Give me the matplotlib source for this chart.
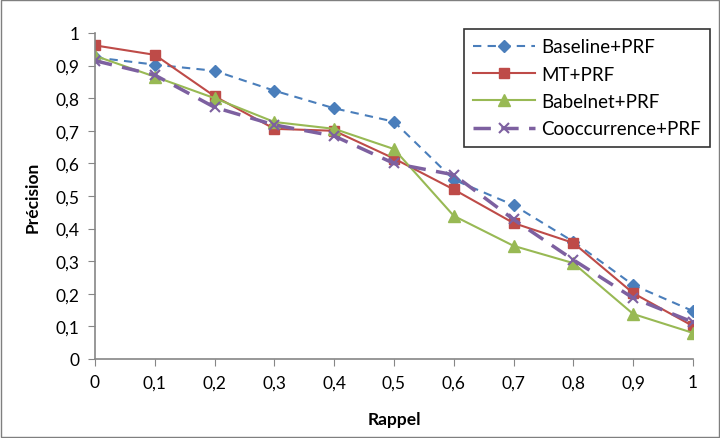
import matplotlib
matplotlib.use('Agg')
import matplotlib.pyplot as plt
from matplotlib.patches import Rectangle

plt.rcParams['font.family'] = ['Lato', 'DejaVu Sans']

rappel = [0, 0.1, 0.2, 0.3, 0.4, 0.5, 0.6, 0.7, 0.8, 0.9, 1]
baseline = [0.925, 0.903, 0.884, 0.823, 0.769, 0.728, 0.55, 0.472, 0.36, 0.227, 0.147]
mt = [0.962, 0.933, 0.806, 0.706, 0.70, 0.615, 0.52, 0.417, 0.356, 0.202, 0.101]
babelnet = [0.93, 0.866, 0.80, 0.727, 0.706, 0.644, 0.439, 0.347, 0.294, 0.138, 0.08]
cooc = [0.915, 0.871, 0.772, 0.718, 0.684, 0.60, 0.565, 0.428, 0.304, 0.187, 0.113]
ticks = [0, 0.1, 0.2, 0.3, 0.4, 0.5, 0.6, 0.7, 0.8, 0.9, 1]
tick_labels = ['0', '0,1', '0,2', '0,3', '0,4', '0,5', '0,6', '0,7', '0,8', '0,9', '1']

fig = plt.figure(figsize=(7.2, 4.39), dpi=100)
ax = fig.add_axes([95/720, 1-360/439, 598/720, 326/439])

ax.plot(rappel, baseline, color='#4a7ebb', ls=(0, (4, 3)), lw=1.5, marker='D', ms=6, label='Baseline+PRF')
ax.plot(rappel, mt, color='#be4b48', ls='-', lw=1.5, marker='s', ms=6.5, label='MT+PRF')
ax.plot(rappel, babelnet, color='#98b954', ls='-', lw=1.5, marker='^', ms=8, label='Babelnet+PRF')
ax.plot(rappel, cooc, color='#7d60a0', ls=(0, (5, 3)), lw=2.5, marker='x', ms=7, mew=1.5, label='Cooccurrence+PRF')

ax.set_xlim(0, 1)
ax.set_ylim(0, 1)
ax.set_xticks(ticks)
ax.set_xticklabels(tick_labels)
ax.set_yticks(ticks)
ax.set_yticklabels(tick_labels)
ax.spines['top'].set_visible(False)
ax.spines['right'].set_visible(False)
for s in ['left', 'bottom']:
    ax.spines[s].set_color('#868686')
    ax.spines[s].set_linewidth(1.2)
ax.tick_params(direction='out', length=5, color='#868686', labelsize=12.5, pad=6)
ax.set_xlabel('Rappel', fontsize=12.5, fontweight='bold', labelpad=15)
ax.set_ylabel('Précision', fontsize=12.5, fontweight='bold', labelpad=11)
for lab in ax.get_xticklabels() + ax.get_yticklabels():
    lab.set_clip_on(False)

leg = ax.legend(loc='upper right', bbox_to_anchor=(710/720, 1-30/439), bbox_transform=fig.transFigure,
                fontsize=13.5, frameon=True, fancybox=False, edgecolor='black',
                handlelength=3.3, handletextpad=0.3, borderpad=0.5, labelspacing=0.55,
                borderaxespad=0)
leg.get_frame().set_linewidth(1.2)

fig.patches.append(Rectangle((0.002, 0.003), 0.996, 0.994, transform=fig.transFigure,
                             fill=False, edgecolor='#7f7f7f', lw=1))

fig.savefig('out.png', dpi=100)
